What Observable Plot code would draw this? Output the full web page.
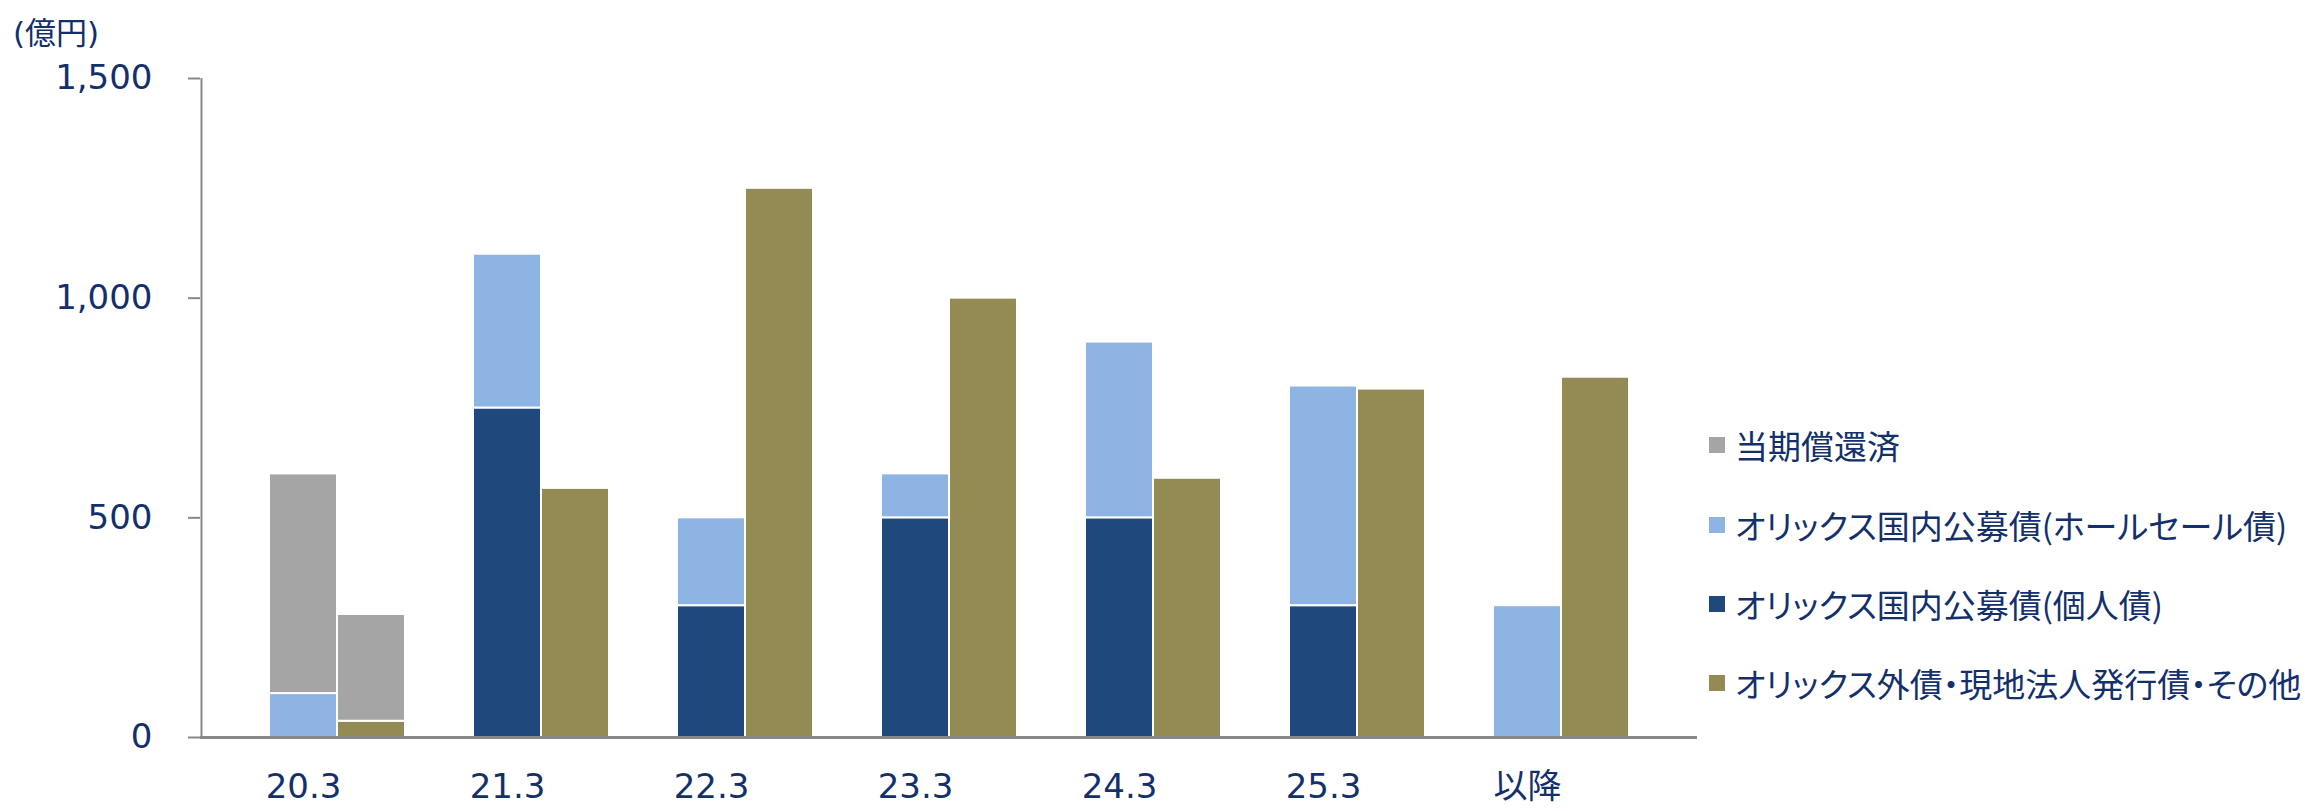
<!DOCTYPE html>
<html>
<head>
<meta charset="utf-8">
<script src="https://cdn.jsdelivr.net/npm/d3@7"></script>
<script src="https://cdn.jsdelivr.net/npm/@observablehq/plot@0.6"></script>
<style>
  html, body { margin: 0; padding: 0; background: #fff; }
  #wrap { position: relative; width: 2305px; height: 811px; font-family: "DejaVu Sans", "Noto Sans CJK JP", sans-serif; color: #13306b; }
  #unit { position: absolute; left: 13px; top: 8px; font-size: 31px; font-family: "DejaVu Sans", "Noto Sans CJK JP", sans-serif; color: #13306b; font-feature-settings: "palt"; }
  #legend { position: absolute; left: 1709px; top: 0; }
  .item { position: absolute; left: 0; white-space: nowrap; display: flex; align-items: center; height: 40px; }
  .sw { width: 16px; height: 16px; margin-right: 10px; flex: none; }
  .lt { font-size: 33px; font-family: "Noto Sans CJK JP", sans-serif; color: #13306b; font-feature-settings: "palt"; }
</style>
</head>
<body>
<div id="wrap">
  <div id="unit">(億円)</div>
  <div id="legend"></div>
</div>
<script>
// ---- data ----
const categories = ["20.3", "21.3", "22.3", "23.3", "24.3", "25.3", "以降"];
const seriesNames = [
  "当期償還済",
  "オリックス国内公募債(ホールセール債)",
  "オリックス国内公募債(個人債)",
  "オリックス外債・現地法人発行債・その他"
];
const seriesColors = ["#a5a5a5", "#8eb4e3", "#1f497d", "#948a54"];
// left bar of each period (stacked bottom to top: retail, wholesale, repaid)
const retail    = [0, 750, 300, 500, 500, 300, 0];
const wholesale = [100, 350, 200, 100, 400, 500, 300];
const repaidLeft = [500, 0, 0, 0, 0, 0, 0];
// right bar of each period (stacked bottom to top: overseas, repaid)
const overseas  = [37, 567, 1250, 1000, 590, 793, 820];
const repaidRight = [243, 0, 0, 0, 0, 0, 0];
const yTicks = [0, 500, 1000, 1500];

// ---- build slots & rows ----
const slots = ["pad-start"];
categories.forEach((c, i) => {
  slots.push(c + "|a", c + "|b");
  slots.push(i < categories.length - 1 ? "gap-" + i : "pad-end");
});
const rows = [];
categories.forEach((c, i) => {
  const a = c + "|a", b = c + "|b";
  [[retail[i], seriesNames[2]], [wholesale[i], seriesNames[1]], [repaidLeft[i], seriesNames[0]]]
    .forEach(([v, s]) => { if (v > 0) rows.push({slot: a, series: s, value: v}); });
  [[overseas[i], seriesNames[3]], [repaidRight[i], seriesNames[0]]]
    .forEach(([v, s]) => { if (v > 0) rows.push({slot: b, series: s, value: v}); });
});
const labelRows = categories.map(c => ({slot: c + "|a", label: c}));

const textColor = "#13306b";
const axisColor = "#888888";
const W = 2305, ML = 200, MR = 608;
const halfBand = (W - ML - MR) / slots.length / 2;

const chart = Plot.plot({
  width: W,
  height: 811,
  marginLeft: ML,
  marginRight: MR,
  marginTop: 78,
  marginBottom: 74,
  style: { fontFamily: '"DejaVu Sans", "Noto Sans CJK JP", sans-serif', background: "transparent", overflow: "visible" },
  x: { type: "band", domain: slots, padding: 0, axis: null },
  y: { domain: [0, 1500] },
  color: { domain: seriesNames, range: seriesColors },
  marks: [
    Plot.barY(rows, { x: "slot", y: "value", fill: "series", stroke: "white", strokeWidth: 2 }),
    Plot.ruleX(["pad-start"], { dx: -halfBand, y1: 0, y2: 1500, stroke: axisColor, strokeWidth: 2 }),
    Plot.ruleY([0], { stroke: axisColor, strokeWidth: 3 }),
    Plot.axisY({
      ticks: yTicks, tickFormat: d3.format(","), tickSize: 12, tickPadding: 36,
      stroke: axisColor, strokeWidth: 2, fontSize: 34, color: textColor, label: null
    }),
    Plot.text(labelRows, {
      x: "slot", y: 0, text: "label", textAnchor: "middle", lineAnchor: "top",
      dy: 36, fontSize: 34, fill: textColor
    })
  ]
});
chart.querySelectorAll("text").forEach(t => t.setAttribute("fill", textColor));
document.getElementById("wrap").prepend(chart);

// ---- legend ----
const legend = document.getElementById("legend");
const rowCenters = [445, 525, 604, 683];
seriesNames.forEach((s, i) => {
  const item = document.createElement("div");
  item.className = "item";
  item.style.top = (rowCenters[i] - 20) + "px";
  const sw = document.createElement("div");
  sw.className = "sw";
  sw.style.background = seriesColors[i];
  const lt = document.createElement("span");
  lt.className = "lt";
  lt.textContent = s;
  item.append(sw, lt);
  legend.append(item);
});
</script>
</body>
</html>
